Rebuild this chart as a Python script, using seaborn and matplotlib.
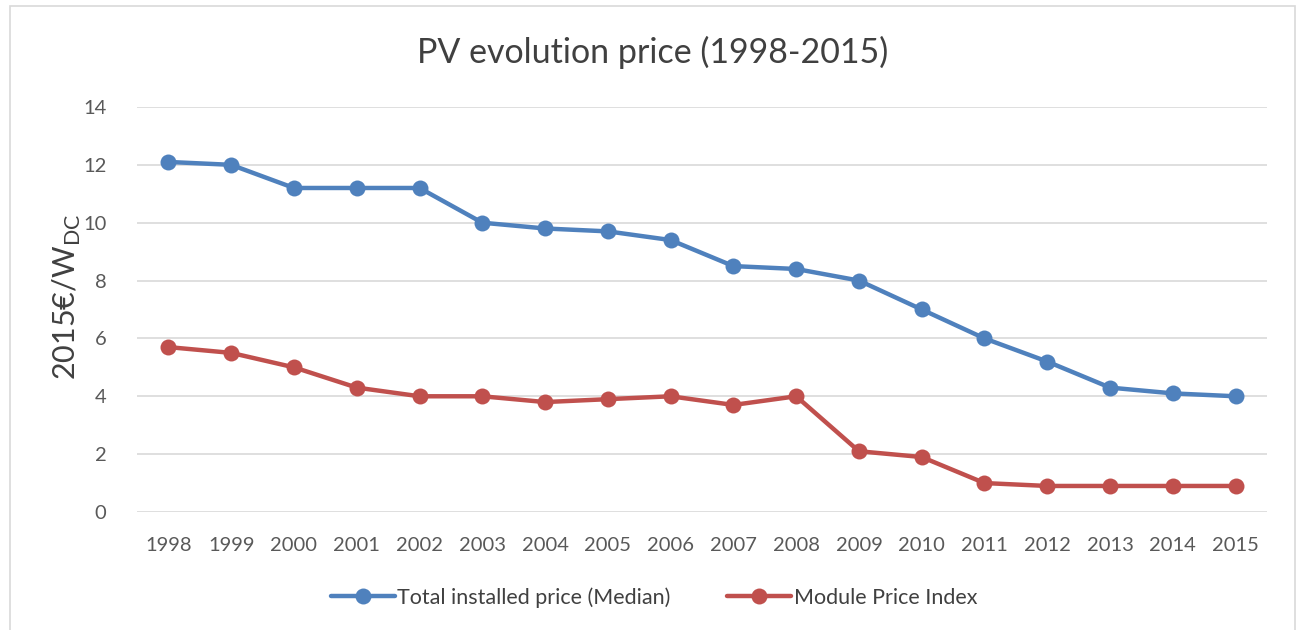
import pandas as pd
import matplotlib
matplotlib.use("Agg")
import matplotlib.pyplot as plt
import seaborn as sns
from matplotlib.patches import Rectangle

anos = [str(a) for a in range(1998, 2016)]
preco_total = [12.1, 12.0, 11.2, 11.2, 11.2, 10.0, 9.8, 9.7, 9.4, 8.5,
               8.4, 8.0, 7.0, 6.0, 5.2, 4.3, 4.1, 4.0]
preco_modulo = [5.7, 5.5, 5.0, 4.3, 4.0, 4.0, 3.8, 3.9, 4.0, 3.7,
                4.0, 2.1, 1.9, 1.0, 0.9, 0.9, 0.9, 0.9]
nomes = ["Total installed price (Median)", "Module Price Index"]
cores = ["#4F81BD", "#C0504D"]

sns.set_theme(style="white")
plt.rcParams["font.family"] = ["Lato", "DejaVu Sans"]
plt.rcParams["mathtext.fontset"] = "custom"
plt.rcParams["mathtext.rm"] = "Lato"

df = pd.DataFrame({"Ano": anos * 2,
                   "Valor": preco_total + preco_modulo,
                   "Serie": [nomes[0]] * len(anos) + [nomes[1]] * len(anos)})

fig = plt.figure(figsize=(13, 6.3), dpi=100)
ax = fig.add_axes([0.1054, 0.1873, 0.8692, 0.6429])

sns.lineplot(data=df, x="Ano", y="Valor", hue="Serie", palette=cores,
             marker="o", markersize=11.5, markeredgewidth=0, linewidth=3.2,
             ax=ax, legend=True, sort=False)

ax.set_xlim(-0.5, len(anos) - 0.5)
ax.set_ylim(0, 14)
ax.set_yticks(range(0, 15, 2))
ax.grid(axis="y", color="#D9D9D9", linewidth=1.2)
ax.set_axisbelow(True)
for s in ax.spines.values():
    s.set_visible(False)
ax.tick_params(axis="both", length=0, labelsize=14.5, labelcolor="#595959")
ax.tick_params(axis="x", pad=18)
ax.tick_params(axis="y", pad=22)
ax.set_xlabel("")
ax.set_ylabel("2015€/W$_{\\mathrm{DC}}$", fontsize=22, color="#404040")
ax.yaxis.set_label_coords(-0.048, 0.53)

fig.text(0.502, 0.916, "PV evolution price (1998-2015)", ha="center", va="center",
         fontsize=24.5, color="#404040")

handles, labels = ax.get_legend_handles_labels()
ax.legend(handles, labels, loc="center", bbox_to_anchor=(0.503, 0.052),
          bbox_transform=fig.transFigure, ncol=2, frameon=False,
          fontsize=15.5, labelcolor="#404040", handlelength=3.0,
          handletextpad=0.1, columnspacing=2.6)

fig.patches.append(Rectangle((10 / 1300, -0.05), 1285 / 1300, 1.05 - 6 / 630,
                             transform=fig.transFigure, fill=False,
                             edgecolor="#D9D9D9", linewidth=1.2))

fig.savefig("out.png", dpi=100)
